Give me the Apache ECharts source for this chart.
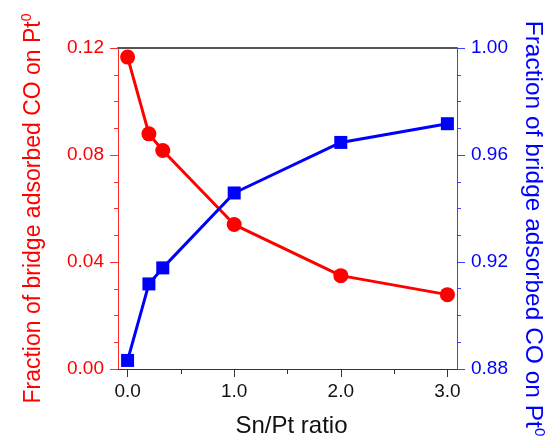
<!DOCTYPE html>
<html>
<head>
<meta charset="utf-8">
<script src="https://cdn.jsdelivr.net/npm/echarts@6/dist/echarts.min.js"></script>
<style>
  html, body { margin: 0; padding: 0; background: #fff; }
  #main { width: 555px; height: 440px; }
</style>
</head>
<body>
<div id="main"></div>
<script>
var dom = document.getElementById('main');
var myChart = echarts.init(dom);

// Sn/Pt ratio
var ratios = [0, 0.2, 0.33, 1.0, 2.0, 3.0];
// fraction of bridge adsorbed CO on Pt0 (left axis, red)
var bridgeLeft = [0.1166, 0.0879, 0.0817, 0.0540, 0.0349, 0.0278];
// same fraction, right axis (blue)
var bridgeRight = [0.8832, 0.9118, 0.9178, 0.9458, 0.9647, 0.9717];
var xTicks = [0, 1, 2, 3];
var xMinorTicks = [0.5, 1.5, 2.5];

var pairs = function (xs, ys) {
  var res = [];
  for (var i = 0; i < xs.length; i++) {
    res.push([xs[i], ys[i]]);
  }
  return res;
};

var font = 'Liberation Sans, Arial, sans-serif';
var xMin = -0.09, xMax = 3.09;

var option = {
  backgroundColor: '#fff',
  animation: false,
  grid: { left: 118, right: 98, top: 48, bottom: 71, outerBoundsMode: 'none', containLabel: false },
  xAxis: [{
    type: 'value',
    position: 'bottom',
    min: xMin,
    max: xMax,
    name: 'Sn/Pt ratio',
    nameLocation: 'middle',
    nameGap: 45,
    nameTextStyle: { color: '#111', fontSize: 24, fontFamily: font, padding: [0, 0, 0, 8] },
    axisLine: { show: true, onZero: false, lineStyle: { color: '#333', width: 1 } },
    axisTick: { show: true, length: 8, customValues: xTicks, lineStyle: { color: '#333' } },
    axisLabel: {
      customValues: xTicks, margin: 13, color: '#111', fontSize: 19, fontFamily: font,
      formatter: function (v) { return v.toFixed(1); }
    },
    splitLine: { show: false }
  }, {
    type: 'value',
    position: 'bottom',
    min: xMin,
    max: xMax,
    axisLine: { show: false },
    axisTick: { show: true, length: 5, customValues: xMinorTicks, lineStyle: { color: '#333' } },
    axisLabel: { show: false },
    splitLine: { show: false }
  }, {
    type: 'value',
    position: 'top',
    min: xMin,
    max: xMax,
    axisLine: { show: true, onZero: false, lineStyle: { color: '#555', width: 2 } },
    axisTick: { show: false },
    axisLabel: { show: false },
    splitLine: { show: false }
  }],
  yAxis: [{
    type: 'value',
    position: 'left',
    min: 0,
    max: 0.12,
    interval: 0.04,
    name: 'Fraction of bridge adsorbed CO on Pt{sup|0}',
    nameLocation: 'middle',
    nameGap: 70,
    nameRotate: 90,
    nameTextStyle: {
      color: '#ff0000', fontSize: 23, fontFamily: font,
      rich: { sup: { fontSize: 14, color: '#ff0000', fontFamily: font, verticalAlign: 'top', lineHeight: 28 } }
    },
    axisLine: { show: true, onZero: false, lineStyle: { color: '#ff2a2a', width: 1 } },
    axisTick: { show: true, length: 8, lineStyle: { color: '#ff2a2a' } },
    minorTick: { show: true, splitNumber: 4, length: 4, lineStyle: { color: '#ff2a2a' } },
    axisLabel: {
      margin: 14, color: '#ff0000', fontSize: 19, fontFamily: font,
      formatter: function (v) { return v.toFixed(2); }
    },
    splitLine: { show: false }
  }, {
    type: 'value',
    position: 'right',
    min: 0.88,
    max: 1.00,
    interval: 0.04,
    name: 'Fraction of bridge adsorbed CO on Pt{sup|0}',
    nameLocation: 'middle',
    nameGap: 61,
    nameRotate: -90,
    nameTextStyle: {
      color: '#0000ff', fontSize: 24.5, fontFamily: font,
      padding: [0, 0, 0, 40],
      rich: { sup: { fontSize: 15, color: '#0000ff', fontFamily: font, verticalAlign: 'top', lineHeight: 29 } }
    },
    axisLine: { show: true, onZero: false, lineStyle: { color: '#4040ff', width: 1 } },
    axisTick: { show: true, length: 8, lineStyle: { color: '#4040ff' } },
    minorTick: { show: true, splitNumber: 4, length: 4, lineStyle: { color: '#4040ff' } },
    axisLabel: {
      margin: 14, color: '#0000ff', fontSize: 19, fontFamily: font,
      formatter: function (v) { return v.toFixed(2); }
    },
    splitLine: { show: false }
  }],
  series: [{
    name: 'left',
    type: 'line',
    xAxisIndex: 0,
    yAxisIndex: 0,
    data: pairs(ratios, bridgeLeft),
    symbol: 'circle',
    symbolSize: 15,
    lineStyle: { color: '#ff0000', width: 3 },
    itemStyle: { color: '#ff0000' }
  }, {
    name: 'right',
    type: 'line',
    xAxisIndex: 0,
    yAxisIndex: 1,
    data: pairs(ratios, bridgeRight),
    symbol: 'rect',
    symbolSize: 13,
    lineStyle: { color: '#0000ff', width: 3 },
    itemStyle: { color: '#0000ff' }
  }]
};

if (option && typeof option === 'object') {
  myChart.setOption(option, true);
}
</script>
</body>
</html>
